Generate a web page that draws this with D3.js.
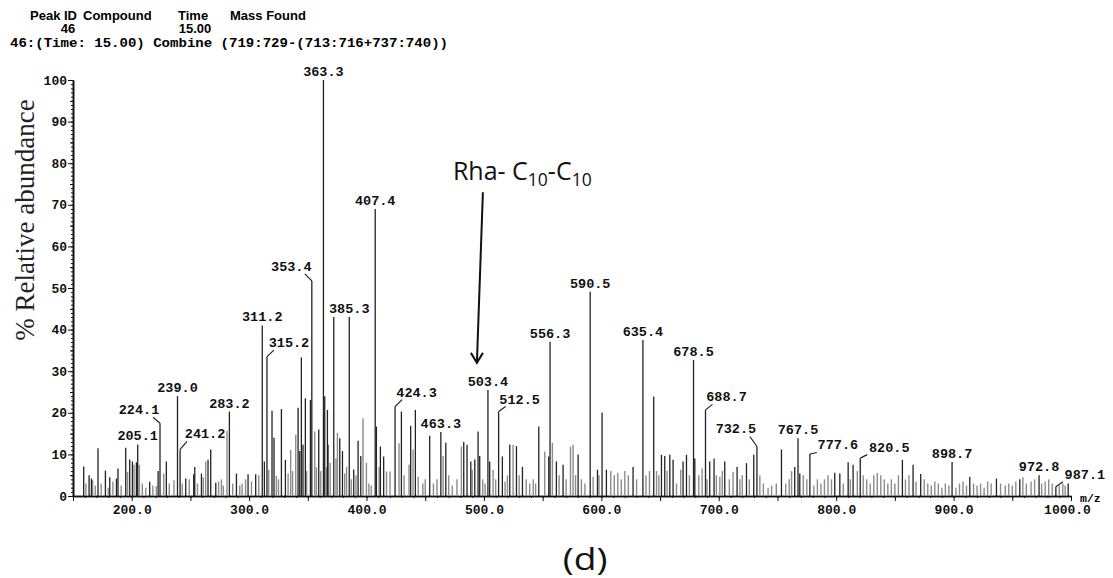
<!DOCTYPE html>
<html>
<head>
<meta charset="utf-8">
<script src="https://cdn.jsdelivr.net/npm/d3@7"></script>
<style>
  body { margin: 0; background: #fff; }
  svg { display: block; }
</style>
</head>
<body>
<div class="chart"></div>
<script>
// Data: [m/z, % relative abundance]
const majorPeaks = [
  [159.1,7.1],[163.7,5],[165.7,4.2],[171.3,11.5],[177.6,6.1],[181.3,4.5],[187,4.2],[188.3,6.6],[194.9,11.6],
  [198.3,8.8],[200.6,8.3],[204,8.1],[205.1,12.4],[215.3,3.4],[222.5,6],[224.1,17.5],[229.5,8.3],[239.0,24],
  [241.2,11.2],[246,4.2],[252.8,5.2],[253.7,7],[259.4,5.4],[265,8.7],[267.3,11.2],[271.6,3.2],[283.2,20.3],
  [289.2,5.4],[299.1,5.2],[305.6,5.2],[311.2,41],[313,8.3],[315.2,33.5],[319.5,20.5],[321.2,14],[327.5,20.9],
  [330.9,8.7],[341.7,21.2],[343.1,10.8],[344.5,33.3],[345.9,12.3],[347.9,23.5],[352.2,23.1],[353.4,51.7],
  [359.3,16],[363.3,100],[364.4,24],[366.7,20.7],[367.2,12.3],[372.1,43],[377.2,13.9],[379.5,10.8],[385.3,43],
  [389.1,6.4],[392.8,13.3],[395.1,9.6],[407.4,69],[408.4,16.7],[411.8,11.9],[414.6,9.5],[424.3,21.5],
  [429.7,20.3],[437.6,16.9],[441.6,20.7],[453.8,14.5],[463.3,15.4],[467.5,12.8],[482.8,13],[485.6,12.3],
  [488.8,8.3],[492.2,8.8],[495,15.5],[496.4,9.6],[503.4,25.5],[504.9,8.3],[512.5,20.3],[515.7,9.5],[522,12.4],
  [527.7,12],[532.8,7],[546.7,16.7],[555.2,9.5],[556.3,37.1],[561.7,8.3],[567.4,7.5],[580.2,10],[590.5,49.1],
  [596.7,6.3],[600.6,20.1],[604.3,6.3],[627,7],[635.4,37.5],[644.6,23.9],[651.2,9.9],[654,9.6],[658.3,9.9],
  [661.1,8.7],[669.6,8.3],[672.5,9.9],[678.5,32.7],[679.6,9],[688.7,20.7],[692.3,8.3],[696,9],[705.1,8.3],
  [715.6,7],[723.6,7.9],[729.8,9.9],[732.5,11.9],[753.4,11.2],[764.7,7],[767.5,13.9],[769,5.4],[777.6,10.1],
  [798.8,5.6],[803.1,5.4],[810.2,8.1],[814.4,7.5],[820.5,9.1],[856.4,8.7],[865.5,7.5],[872,5.3],[898.7,8.2],
  [913.8,4.6],[936.5,4.2],[956.4,4],[972.8,5],[987.1,2.2],[997.6,3]
];

const minorPeaks = [
  [161,3],[166.7,3.8],[169,2.5],[174,3],[180,2],[184,3.5],[191,2.5],[196.5,5.8],[202,7.5],[206.5,7.5],[209,3],
  [212,2],[218,2.5],[221,2.4],[227.3,5.4],[232,3],[236,3.8],[243,3],[249,4],[256,3],[261,4.5],[263,8.3],
  [274,3.5],[276.4,4],[278,2.5],[281.2,15.6],[286,3],[292,2.5],[294,3],[297,4],[302,3.5],[308.2,5],[316.7,6.3],
  [323.2,4.8],[325,4],[333.2,5.4],[335.4,11.1],[337,6],[339.7,14.7],[349,6],[355.9,15.5],[357.3,6.9],[361,6],
  [365.8,6.9],[369,8],[374,9],[375.2,15.2],[381.4,5.4],[383,7],[387,4],[391,5],[397,18.7],[399.9,8],[402,3],
  [404,2.5],[410.7,7],[417,5.9],[420,5.9],[427.7,12.7],[432,5],[436.2,7.5],[439.6,11.2],[444,4.6],[448,3],
  [450,4],[457,3],[460,4],[465.2,9.6],[470,5],[473,2.5],[477,4],[480.8,11.9],[490,6.3],[499,4],[501,3],
  [507.8,6.3],[510,4],[518,3.5],[520,5],[524.8,12.3],[530,5],[536,4],[539,3],[542,4],[544,3],[551.8,10.7],
  [558.3,12.8],[564,5],[570,4],[573.7,11.9],[575.9,12.3],[578,5],[583,4],[586,3],[593,4.6],[598,5],[608,6],
  [611,5],[614,5.5],[617,4],[620,6],[623,5],[630,4],[638,5],[641,6],[647,6],[649,5],[656,6],[664,3],
  [667.6,6.3],[675,5],[683,5],[685.8,6.6],[690,4],[698,5],[700.9,4.6],[703,6],[709,4],[712.2,5.8],[718,4],
  [720,5],[726,4],[735,5],[738,3],[742,2],[745,2.5],[749,3],[757,3],[760,4],[762,6],[772,5],[775,4],[781,2.5],
  [784,4],[787,3],[790,4],[793,5],[796,4],[806,3],[812,4],[818,6],[823,5],[826,4],[829,3],[832,5],[835,5.5],
  [838,5],[841,4],[844,3],[847,4],[850,3],[853,5],[859,4],[862,5],[868,3.5],[875,4],[878,3],[881,2.5],
  [884,3.5],[887,3],[890,2],[893,3],[896,2.5],[902,2],[905,3],[908,3.5],[911,2.5],[917,3],[920,2.5],[923,3],
  [926,2],[929,3.5],[932,3],[940,3],[944,2.5],[947,3],[950,2.5],[953,3.5],[959,4.5],[962,3],[966,3.5],[969,4],
  [975,3],[978,3.5],[981,4],[984,3],[990,2.5],[993,3],[995,2.5]
];

const labelledMz = [205.1, 224.1, 239.0, 241.2, 283.2, 311.2, 315.2, 353.4, 363.3, 385.3, 407.4, 424.3,
  463.3, 503.4, 512.5, 556.3, 590.5, 635.4, 678.5, 688.7, 732.5, 767.5, 777.6, 820.5, 898.7, 972.8, 987.1];

const yTicks = d3.range(0, 101, 10);
const xTicks = d3.range(200, 1001, 100);

const headerCols = ["Peak ID", "Compound", "Time", "Mass Found"];
const headerVals = ["46", "", "15.00", ""];
const headerLine = "46:(Time: 15.00) Combine (719:729-(713:716+737:740))";

// annotation: arrow to the Rha-C10-C10 ion
const arrowMz = 494, arrowFrom = 73, arrowTo = 32;

// Dimensions
const width = 1113, height = 578;
const plot = {left: 73, right: 1071, top: 80, bottom: 496};
const mono = "'Liberation Mono', 'DejaVu Sans Mono', monospace";

// Scales
const xScale = d3.scaleLinear().domain([150, 1000]).range([plot.left, plot.right]);
const yScale = d3.scaleLinear().domain([0, 100]).range([plot.bottom, plot.top]);

const svg = d3.select(".chart").append("svg")
    .attr("width", width)
    .attr("height", height);

// Header
const header = svg.append("g")
    .attr("font-family", "'Liberation Sans', Arial, sans-serif")
    .attr("font-weight", "bold")
    .attr("font-size", 13);
const colX = [30, 83, 178, 230];
header.selectAll(".col").data(headerCols).enter().append("text")
    .attr("x", (d, i) => colX[i]).attr("y", 20).text(d => d);
header.selectAll(".val").data(headerVals).enter().append("text")
    .attr("x", (d, i) => [68, 0, 195, 0][i]).attr("y", 33)
    .attr("text-anchor", "middle").text(d => d);
svg.append("text")
    .attr("x", 10).attr("y", 47)
    .attr("font-family", mono).attr("font-weight", "bold").attr("font-size", 12.5)
    .attr("textLength", 438).attr("lengthAdjust", "spacingAndGlyphs")
    .text(headerLine);

// Axes
const g = svg.append("g");
const yMinor = d3.axisLeft(yScale).tickValues(d3.range(0, 101, 1)).tickSize(2).tickSizeOuter(0).tickFormat("");
const yMid = d3.axisLeft(yScale).tickValues(d3.range(5, 100, 10)).tickSize(3).tickSizeOuter(0).tickFormat("");
const yMajor = d3.axisLeft(yScale).tickValues(yTicks).tickSize(5).tickPadding(1).tickSizeOuter(0)
    .tickFormat(d3.format("d"));
const xMinor = d3.axisBottom(xScale).tickValues(d3.range(150, 1001, 10)).tickSize(2).tickSizeOuter(0).tickFormat("");
const xMajor = d3.axisBottom(xScale).tickValues(d3.range(150, 1001, 50)).tickSize(5).tickSizeOuter(0)
    .tickFormat(d => xTicks.includes(d) ? d3.format(".1f")(d) : "").tickPadding(4);

[yMinor, yMid, yMajor].forEach(a => g.append("g").attr("transform", `translate(${plot.left},0)`).call(a));
[xMinor, xMajor].forEach(a => g.append("g").attr("class", "xaxis").attr("transform", `translate(0,${plot.bottom})`).call(a));
g.selectAll(".domain").attr("stroke", "#111").attr("stroke-width", 1.4);
g.selectAll(".tick line").attr("stroke", "#111").attr("stroke-width", 1);
g.selectAll(".tick text")
    .attr("font-family", mono).attr("font-weight", "bold").attr("font-size", 13).attr("fill", "#111");
// keep the last label clear of the m/z unit
g.selectAll(".xaxis .tick text").filter(d => d === 1000).attr("dx", -4);

svg.append("text")
    .attr("x", plot.right + 9).attr("y", plot.bottom + 6)
    .attr("font-family", mono).attr("font-weight", "bold").attr("font-size", 11.5)
    .text("m/z");

// Y label
svg.append("text")
    .attr("transform", "translate(34,220) rotate(-90)")
    .attr("text-anchor", "middle")
    .attr("font-family", "'Liberation Serif', 'Times New Roman', serif")
    .attr("font-size", 27)
    .attr("fill", "#222")
    .text("% Relative abundance");

// Peaks
g.selectAll(".minor").data(minorPeaks).enter().append("line")
    .attr("class", "minor")
    .attr("x1", d => xScale(d[0])).attr("x2", d => xScale(d[0]))
    .attr("y1", yScale(0)).attr("y2", d => yScale(d[1]))
    .attr("stroke", "#8c8c8c").attr("stroke-width", 1.4);

g.selectAll(".major").data(majorPeaks).enter().append("line")
    .attr("class", "major")
    .attr("x1", d => xScale(d[0])).attr("x2", d => xScale(d[0]))
    .attr("y1", yScale(0)).attr("y2", d => yScale(d[1]))
    .attr("stroke", "#222").attr("stroke-width", 1.3);

// Peak labels (offsets of label centre from peak top, px)
const labelOffsets = {
  "224.1": [-21, -9], "241.2": [25, -11], "315.2": [22, -9.5], "353.4": [-20.5, -10],
  "424.3": [21.5, -10], "512.5": [21, -8], "688.7": [21, -8.5], "732.5": [-21, -13],
  "777.6": [28, -4.5], "820.5": [29, -6.5], "987.1": [29, -8]
};
const peakByMz = new Map(majorPeaks.map(d => [d[0], d[1]]));
const labels = labelledMz.map(mz => {
  const key = mz.toFixed(1);
  const off = labelOffsets[key] || [0, -4];
  const px = xScale(mz), top = yScale(peakByMz.get(mz));
  return {text: key, px, top, lx: px + off[0], ly: top + off[1], lead: !!labelOffsets[key], dir: Math.sign(off[0])};
});

g.selectAll(".leader").data(labels.filter(d => d.lead)).enter().append("path")
    .attr("fill", "none").attr("stroke", "#222").attr("stroke-width", 1.2)
    .attr("d", d => `M${d.px},${d.top}L${d.px + d.dir * 7},${Math.min(d.top, d.ly + 3)}`);

g.selectAll(".plabel").data(labels).enter().append("text")
    .attr("x", d => d.lx).attr("y", d => d.ly)
    .attr("text-anchor", "middle")
    .attr("font-family", mono).attr("font-weight", "bold").attr("font-size", 13.5)
    .attr("fill", "#111")
    .text(d => d.text);

// Arrow annotation
const ax = xScale(arrowMz);
g.append("line")
    .attr("x1", ax + 6).attr("y1", yScale(arrowFrom))
    .attr("x2", ax).attr("y2", yScale(arrowTo))
    .attr("stroke", "#111").attr("stroke-width", 2);
g.append("path")
    .attr("fill", "none").attr("stroke", "#111").attr("stroke-width", 2)
    .attr("d", `M${ax - 6},${yScale(arrowTo) - 10}L${ax},${yScale(arrowTo)}L${ax + 6},${yScale(arrowTo) - 10}`);

const rha = svg.append("text")
    .attr("x", ax - 24).attr("y", yScale(arrowFrom) - 12)
    .attr("font-family", "'Open Sans', 'Noto Sans', sans-serif")
    .attr("font-size", 25).attr("fill", "#111");
rha.append("tspan").text("Rha- C");
rha.append("tspan").attr("dy", 6).attr("font-size", 17.5).text("10");
rha.append("tspan").attr("dy", -6).text("-C");
rha.append("tspan").attr("dy", 6).attr("font-size", 17.5).text("10");

// Panel letter
svg.append("text")
    .attr("transform", "translate(585,570) scale(1.2,1)")
    .attr("text-anchor", "middle")
    .attr("font-family", "'Open Sans', 'Noto Sans', sans-serif")
    .attr("font-size", 31).attr("fill", "#111")
    .text("(d)");
</script>
</body>
</html>
